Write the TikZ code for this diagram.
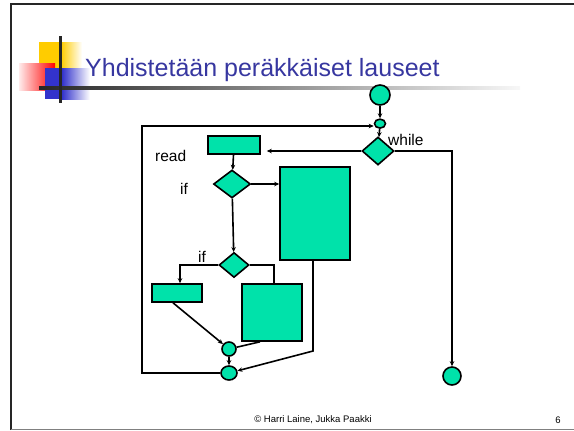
\documentclass[tikz,border=0pt]{standalone}
\usepackage{fontspec}
\setmainfont{Liberation Sans}
\usepackage{tikz}
\usetikzlibrary{positioning}
\usetikzlibrary{arrows.meta}
\usetikzlibrary{shapes.geometric}
\definecolor{fillg}{RGB}{0,226,170}
\definecolor{titleb}{RGB}{55,55,160}
\definecolor{logoy}{RGB}{255,204,0}
\definecolor{logob}{RGB}{51,51,204}
\tikzset{
  blk/.style={draw, fill=fillg, line width=1.6bp, inner sep=0pt},
  box/.style={blk, rectangle},
  dia/.style={blk, diamond},
  dot/.style={blk, circle},
  oval/.style={blk, ellipse},
  flow/.style={line width=1.6bp},
  tip/.style={flow, -{Stealth[length=5bp,width=4.5bp]}},
  lbl/.style={inner sep=0pt, font=\fontsize{15.5bp}{17bp}\selectfont},
}

\begin{document}
\begin{tikzpicture}[x=1bp, y=-1bp]
    \useasboundingbox (0,0) rectangle (574,430);
    % slide %
    \draw[line width=1.5bp, black!85] (11,430) -- (11,4) -- (574,4);
    \draw[line width=1bp, black!50] (11,429) -- (574,429);
    \fill[logoy] (39,42) rectangle (61,68);
    \shade[left color=logoy, right color=white] (61,42) rectangle (82,68);
    \shade[left color=red!8, right color=red] (19,63) rectangle (55,90);
    \fill[logob] (45,68) rectangle (62,99);
    \shade[left color=logob, right color=white] (62,68) rectangle (90,99);
    \shade[left color=black!85, middle color=black!55, right color=black!3] (39,86) rectangle (520,89);
    \fill[black!85] (59,36) rectangle (62,103);
    \node[anchor=base west, inner sep=0pt, text=titleb, font=\fontsize{25bp}{28bp}\selectfont] (title) at (85,76) {Yhdistetään peräkkäiset lauseet};
    \node[inner sep=0pt, font=\fontsize{9.5bp}{11bp}\selectfont] (foot) at (313,420) {© Harri Laine, Jukka Paakki};
    \node[inner sep=0pt, font=\fontsize{9.5bp}{11bp}\selectfont] (page) at (558,420) {6};
    % nodes %
    \node[dot, minimum size=20bp] (start) at (380,95) {};
    \node[oval, minimum width=11bp, minimum height=9bp, below=12.5bp of start] (junc) {};
    \node[dia, minimum width=32bp, minimum height=28bp] (while) at (378,151) {};
    \node[lbl, anchor=base west] (whilelab) at (388,145) {while};
    \node[box, minimum width=52bp, minimum height=18bp] (read) at (234,145) {};
    \node[lbl, anchor=base west] (readlab) at (155,161) {read};
    \node[dia, minimum width=37bp, minimum height=28bp] (if1) at (232,184) {};
    \node[lbl, anchor=base west] (iflab1) at (180,194) {if};
    \node[box, minimum width=70bp, minimum height=93bp] (body1) at (315,213.5) {};
    \node[dia, minimum width=30bp, minimum height=25bp] (if2) at (234,265) {};
    \node[lbl, anchor=base west] (iflab2) at (198,262) {if};
    \node[box, minimum width=50bp, minimum height=18bp] (then2) at (177,293) {};
    \node[box, minimum width=60bp, minimum height=57bp] (else2) at (272,312.5) {};
    \node[dot, minimum size=14bp] (merge1) at (229,349) {};
    \node[oval, minimum width=16bp, minimum height=14bp] (merge2) at (229,373) {};
    \node[dot, minimum size=18bp] (stop) at (452,376) {};
    \coordinate (loopl) at (142,126);
    \coordinate (b1low) at (313,351);
    % edges %
    \draw[tip] (start) -- (junc);
    \draw[tip] (junc) -- (while);
    \draw[tip] (while.west) -- ([xshift=6bp]while.west -| read.east);
    \draw[tip] (while.east) -| (stop);
    \draw[tip] (read) -- (if1);
    \draw[tip] (if1.east) -- (if1.east -| body1.west);
    \draw[tip] (if1) -- (if2);
    \draw[tip] (if2.west) -| ([xshift=3bp]then2.north);
    \draw[flow] (if2.east) -| ([xshift=2bp]else2.north);
    \draw[tip] ([xshift=-4bp]then2.south) -- (merge1);
    \draw[flow] ([xshift=-12bp]else2.south) -- (merge1);
    \draw[tip] (merge1) -- (merge2);
    \draw[tip] ([xshift=-2bp]body1.south) -- (b1low) -- (merge2);
    \draw[tip] (merge2.west) -| (loopl) -- (loopl -| junc.west);
\end{tikzpicture}
\end{document}
